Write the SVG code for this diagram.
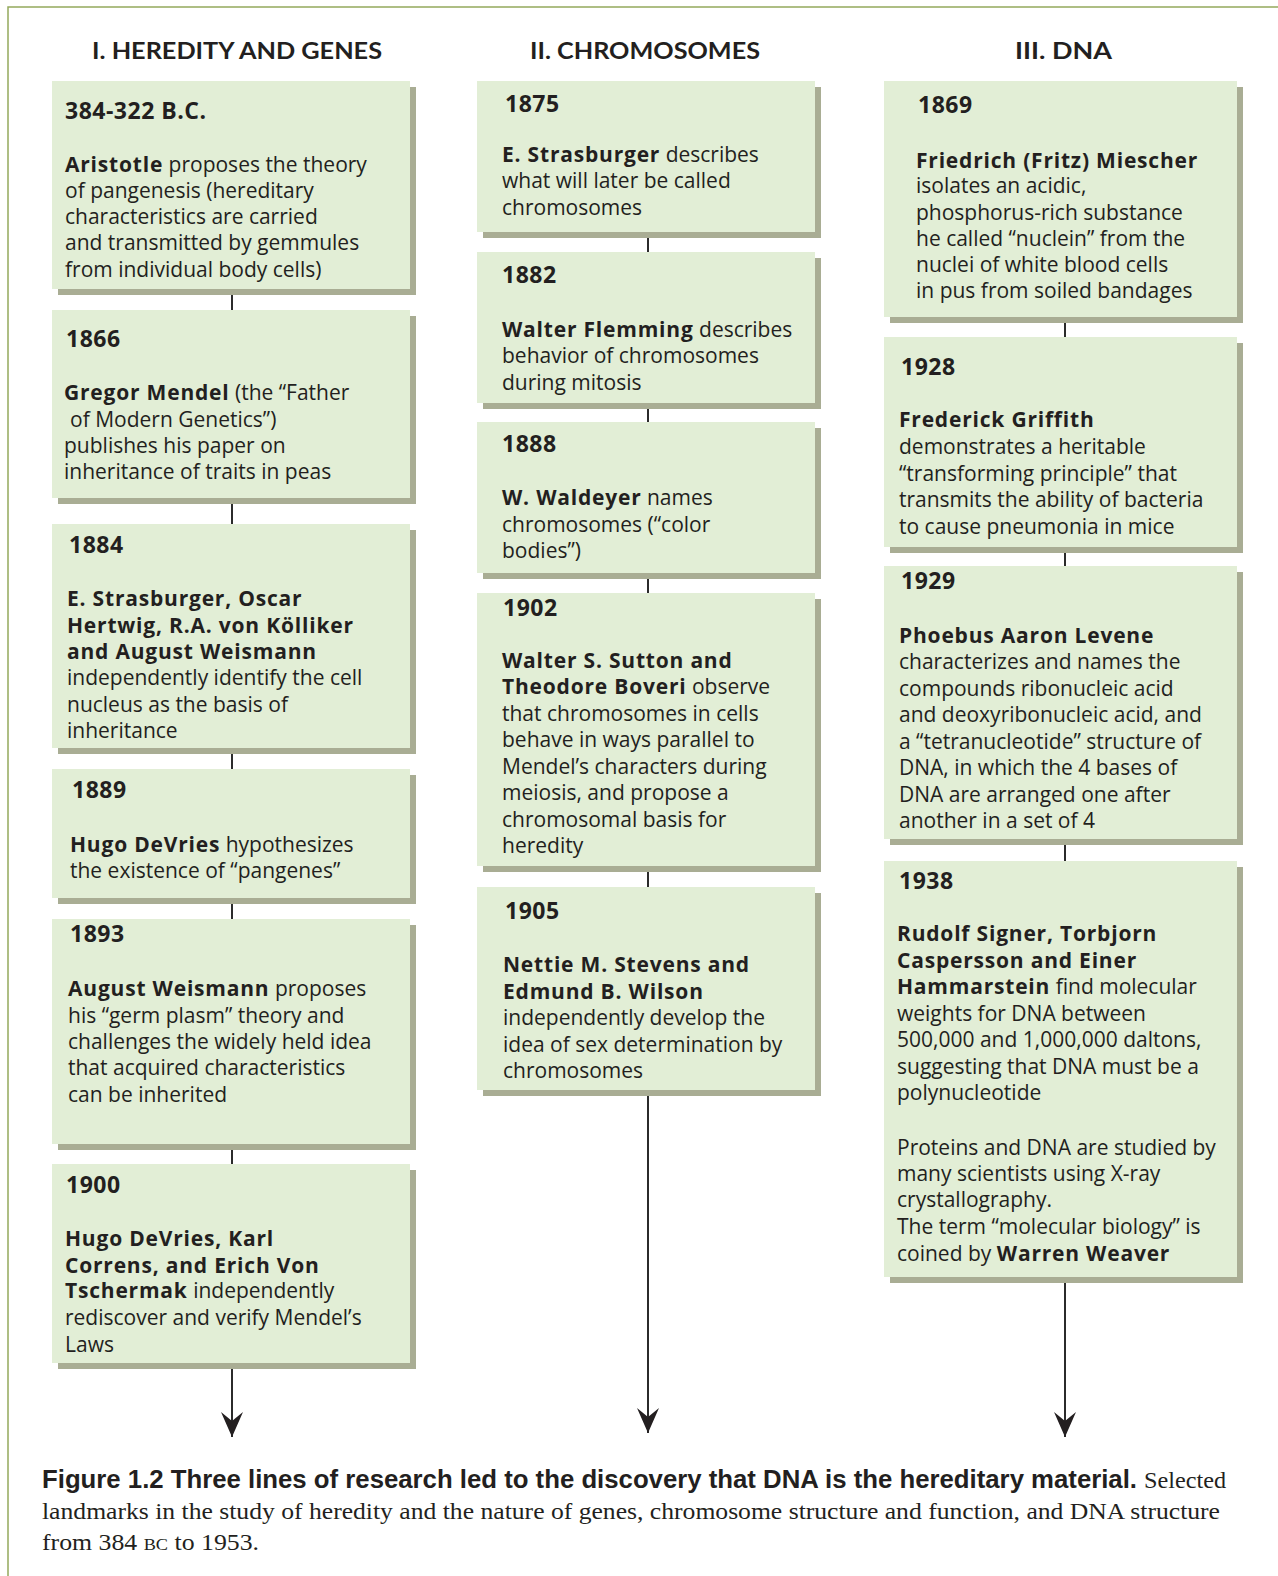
<svg xmlns="http://www.w3.org/2000/svg" width="1278" height="1576" viewBox="0 0 1278 1576">
<defs>
<style>
.frame{fill:none;stroke:#94a95c;stroke-width:1.5}
.box{fill:#e2eed6}
.sh{fill:#a9ad94}
.t{font-family:"Open Sans",Lato,"Liberation Sans",sans-serif;font-size:21px;fill:#231f20}
.b{font-weight:700;font-size:21px;letter-spacing:0.8px}
.yr{font-weight:700;font-size:23px;letter-spacing:0.5px}
.hd{font-family:Lato,"Liberation Sans",sans-serif;font-weight:700;font-size:23px;fill:#231f20}
.ln{stroke:#2b2b2b;stroke-width:2;fill:none}
.cap{font-family:"Liberation Sans",Arial,sans-serif;font-weight:700;font-size:25px;fill:#231f20}
.capr{font-family:"Liberation Serif","Times New Roman",serif;font-size:24px;fill:#231f20}
</style>
<marker id="ah" viewBox="-26 -12 27 24" refX="0" refY="0" markerWidth="27" markerHeight="24" markerUnits="userSpaceOnUse" orient="auto">
<path d="M0,0 L-25,-11 L-16,0 L-25,11 Z" fill="#231f20"/>
</marker>
</defs>
<rect width="1278" height="1576" fill="#ffffff"/>
<path class="frame" d="M8,1576 V7 H1278"/>

<g id="headers">
<text class="hd" x="92" y="59" textLength="290" lengthAdjust="spacingAndGlyphs">I. HEREDITY AND GENES</text>
<text class="hd" x="530" y="59" textLength="230" lengthAdjust="spacingAndGlyphs">II. CHROMOSOMES</text>
<text class="hd" x="1015" y="59" textLength="97" lengthAdjust="spacingAndGlyphs">III. DNA</text>
</g>

<g id="connectors">
<line class="ln" x1="232" y1="289" x2="232" y2="310"/>
<line class="ln" x1="232" y1="498" x2="232" y2="524"/>
<line class="ln" x1="232" y1="748" x2="232" y2="769"/>
<line class="ln" x1="232" y1="898" x2="232" y2="919"/>
<line class="ln" x1="232" y1="1144" x2="232" y2="1164"/>
<line class="ln" x1="232" y1="1363" x2="232" y2="1437" marker-end="url(#ah)"/>
<line class="ln" x1="648" y1="232" x2="648" y2="252"/>
<line class="ln" x1="648" y1="403" x2="648" y2="422"/>
<line class="ln" x1="648" y1="573" x2="648" y2="593"/>
<line class="ln" x1="648" y1="866" x2="648" y2="887"/>
<line class="ln" x1="648" y1="1090" x2="648" y2="1433" marker-end="url(#ah)"/>
<line class="ln" x1="1065" y1="317" x2="1065" y2="337"/>
<line class="ln" x1="1065" y1="547" x2="1065" y2="566"/>
<line class="ln" x1="1065" y1="839" x2="1065" y2="861"/>
<line class="ln" x1="1065" y1="1277" x2="1065" y2="1437" marker-end="url(#ah)"/>
</g>

<g id="n384bc">
<rect class="sh" x="58" y="87" width="358" height="208"/>
<rect class="box" x="52" y="81" width="358" height="208"/>
<text class="t" x="65"><tspan class="yr" y="119">384-322 B.C.</tspan>
<tspan x="65" y="172"><tspan class="b">Aristotle</tspan> proposes the theory</tspan>
<tspan x="65" y="198">of pangenesis (hereditary</tspan>
<tspan x="65" y="224">characteristics are carried</tspan>
<tspan x="65" y="250">and transmitted by gemmules</tspan>
<tspan x="65" y="277">from individual body cells)</tspan></text>
</g>

<g id="n1866">
<rect class="sh" x="58" y="316" width="358" height="188"/>
<rect class="box" x="52" y="310" width="358" height="188"/>
<text class="t" x="66"><tspan class="yr" y="347">1866</tspan>
<tspan x="64" y="400"><tspan class="b">Gregor Mendel</tspan> (the “Father</tspan>
<tspan x="70" y="427">of Modern Genetics”)</tspan>
<tspan x="64" y="453">publishes his paper on</tspan>
<tspan x="64" y="479">inheritance of traits in peas</tspan></text>
</g>

<g id="n1884">
<rect class="sh" x="58" y="530" width="358" height="224"/>
<rect class="box" x="52" y="524" width="358" height="224"/>
<text class="t" x="69"><tspan class="yr" y="553">1884</tspan>
<tspan x="67" y="606" class="b">E. Strasburger, Oscar</tspan>
<tspan x="67" y="633" class="b">Hertwig, R.A. von Kölliker</tspan>
<tspan x="67" y="659" class="b">and August Weismann</tspan>
<tspan x="67" y="685">independently identify the cell</tspan>
<tspan x="67" y="712">nucleus as the basis of</tspan>
<tspan x="67" y="738">inheritance</tspan></text>
</g>

<g id="n1889">
<rect class="sh" x="58" y="775" width="358" height="129"/>
<rect class="box" x="52" y="769" width="358" height="129"/>
<text class="t" x="72"><tspan class="yr" y="798">1889</tspan>
<tspan x="70" y="852"><tspan class="b">Hugo DeVries</tspan> hypothesizes</tspan>
<tspan x="70" y="878">the existence of “pangenes”</tspan></text>
</g>

<g id="n1893">
<rect class="sh" x="58" y="925" width="358" height="225"/>
<rect class="box" x="52" y="919" width="358" height="225"/>
<text class="t" x="70"><tspan class="yr" y="942">1893</tspan>
<tspan x="68" y="996"><tspan class="b">August Weismann</tspan> proposes</tspan>
<tspan x="68" y="1023">his “germ plasm” theory and</tspan>
<tspan x="68" y="1049">challenges the widely held idea</tspan>
<tspan x="68" y="1075">that acquired characteristics</tspan>
<tspan x="68" y="1102">can be inherited</tspan></text>
</g>

<g id="n1900">
<rect class="sh" x="58" y="1170" width="358" height="199"/>
<rect class="box" x="52" y="1164" width="358" height="199"/>
<text class="t" x="66"><tspan class="yr" y="1193">1900</tspan>
<tspan x="65" y="1246" class="b">Hugo DeVries, Karl</tspan>
<tspan x="65" y="1273" class="b">Correns, and Erich Von</tspan>
<tspan x="65" y="1298"><tspan class="b">Tschermak</tspan> independently</tspan>
<tspan x="65" y="1325">rediscover and verify Mendel’s</tspan>
<tspan x="65" y="1352">Laws</tspan></text>
</g>

<g id="n1875">
<rect class="sh" x="483" y="87" width="338" height="151"/>
<rect class="box" x="477" y="81" width="338" height="151"/>
<text class="t" x="505"><tspan class="yr" y="112">1875</tspan>
<tspan x="502" y="162"><tspan class="b">E. Strasburger</tspan> describes</tspan>
<tspan x="502" y="188">what will later be called</tspan>
<tspan x="502" y="215">chromosomes</tspan></text>
</g>

<g id="n1882">
<rect class="sh" x="483" y="258" width="338" height="151"/>
<rect class="box" x="477" y="252" width="338" height="151"/>
<text class="t" x="502"><tspan class="yr" y="283">1882</tspan>
<tspan x="502" y="337"><tspan class="b">Walter Flemming</tspan> describes</tspan>
<tspan x="502" y="363">behavior of chromosomes</tspan>
<tspan x="502" y="390">during mitosis</tspan></text>
</g>

<g id="n1888">
<rect class="sh" x="483" y="428" width="338" height="151"/>
<rect class="box" x="477" y="422" width="338" height="151"/>
<text class="t" x="502"><tspan class="yr" y="452">1888</tspan>
<tspan x="502" y="505"><tspan class="b">W. Waldeyer</tspan> names</tspan>
<tspan x="502" y="532">chromosomes (“color</tspan>
<tspan x="502" y="558">bodies”)</tspan></text>
</g>

<g id="n1902">
<rect class="sh" x="483" y="599" width="338" height="273"/>
<rect class="box" x="477" y="593" width="338" height="273"/>
<text class="t" x="503"><tspan class="yr" y="616">1902</tspan>
<tspan x="502" y="668" class="b">Walter S. Sutton and</tspan>
<tspan x="502" y="694"><tspan class="b">Theodore Boveri</tspan> observe</tspan>
<tspan x="502" y="721">that chromosomes in cells</tspan>
<tspan x="502" y="747">behave in ways parallel to</tspan>
<tspan x="502" y="774">Mendel’s characters during</tspan>
<tspan x="502" y="800">meiosis, and propose a</tspan>
<tspan x="502" y="827">chromosomal basis for</tspan>
<tspan x="502" y="853">heredity</tspan></text>
</g>

<g id="n1905">
<rect class="sh" x="483" y="893" width="338" height="203"/>
<rect class="box" x="477" y="887" width="338" height="203"/>
<text class="t" x="505"><tspan class="yr" y="919">1905</tspan>
<tspan x="503" y="972" class="b">Nettie M. Stevens and</tspan>
<tspan x="503" y="999" class="b">Edmund B. Wilson</tspan>
<tspan x="503" y="1025">independently develop the</tspan>
<tspan x="503" y="1052">idea of sex determination by</tspan>
<tspan x="503" y="1078">chromosomes</tspan></text>
</g>

<g id="n1869">
<rect class="sh" x="890" y="87" width="353" height="236"/>
<rect class="box" x="884" y="81" width="353" height="236"/>
<text class="t" x="918"><tspan class="yr" y="113">1869</tspan>
<tspan x="916" y="168" class="b">Friedrich (Fritz) Miescher</tspan>
<tspan x="916" y="193">isolates an acidic,</tspan>
<tspan x="916" y="220">phosphorus-rich substance</tspan>
<tspan x="916" y="246">he called “nuclein” from the</tspan>
<tspan x="916" y="272">nuclei of white blood cells</tspan>
<tspan x="916" y="298">in pus from soiled bandages</tspan></text>
</g>

<g id="n1928">
<rect class="sh" x="890" y="343" width="353" height="210"/>
<rect class="box" x="884" y="337" width="353" height="210"/>
<text class="t" x="901"><tspan class="yr" y="375">1928</tspan>
<tspan x="899" y="427" class="b">Frederick Griffith</tspan>
<tspan x="899" y="454">demonstrates a heritable</tspan>
<tspan x="899" y="481">“transforming principle” that</tspan>
<tspan x="899" y="507">transmits the ability of bacteria</tspan>
<tspan x="899" y="534">to cause pneumonia in mice</tspan></text>
</g>

<g id="n1929">
<rect class="sh" x="890" y="572" width="353" height="273"/>
<rect class="box" x="884" y="566" width="353" height="273"/>
<text class="t" x="901"><tspan class="yr" y="589">1929</tspan>
<tspan x="899" y="643" class="b">Phoebus Aaron Levene</tspan>
<tspan x="899" y="669">characterizes and names the</tspan>
<tspan x="899" y="696">compounds ribonucleic acid</tspan>
<tspan x="899" y="722">and deoxyribonucleic acid, and</tspan>
<tspan x="899" y="749">a “tetranucleotide” structure of</tspan>
<tspan x="899" y="775">DNA, in which the 4 bases of</tspan>
<tspan x="899" y="802">DNA are arranged one after</tspan>
<tspan x="899" y="828">another in a set of 4</tspan></text>
</g>

<g id="n1938">
<rect class="sh" x="890" y="867" width="353" height="416"/>
<rect class="box" x="884" y="861" width="353" height="416"/>
<text class="t" x="899"><tspan class="yr" y="889">1938</tspan>
<tspan x="897" y="941" class="b">Rudolf Signer, Torbjorn</tspan>
<tspan x="897" y="968" class="b">Caspersson and Einer</tspan>
<tspan x="897" y="994"><tspan class="b">Hammarstein</tspan> find molecular</tspan>
<tspan x="897" y="1021">weights for DNA between</tspan>
<tspan x="897" y="1047">500,000 and 1,000,000 daltons,</tspan>
<tspan x="897" y="1074">suggesting that DNA must be a</tspan>
<tspan x="897" y="1100">polynucleotide</tspan>
<tspan x="897" y="1155">Proteins and DNA are studied by</tspan>
<tspan x="897" y="1181">many scientists using X-ray</tspan>
<tspan x="897" y="1207">crystallography.</tspan>
<tspan x="897" y="1234">The term “molecular biology”  is</tspan>
<tspan x="897" y="1261">coined by <tspan class="b">Warren Weaver</tspan></tspan></text>
</g>

<g id="caption">
<text class="cap" x="42" y="1488" textLength="1095" lengthAdjust="spacingAndGlyphs">Figure 1.2  Three lines of research led to the discovery that DNA is the hereditary material.</text>
<text class="capr" x="1144" y="1488" textLength="82" lengthAdjust="spacingAndGlyphs">Selected</text>
<text class="capr" x="42" y="1519" textLength="1178" lengthAdjust="spacingAndGlyphs">landmarks in the study of heredity and the nature of genes, chromosome structure and function, and DNA structure</text>
<text class="capr" x="42" y="1550" textLength="217" lengthAdjust="spacingAndGlyphs">from 384 <tspan font-size="17">BC</tspan> to 1953.</text>
</g>
</svg>
